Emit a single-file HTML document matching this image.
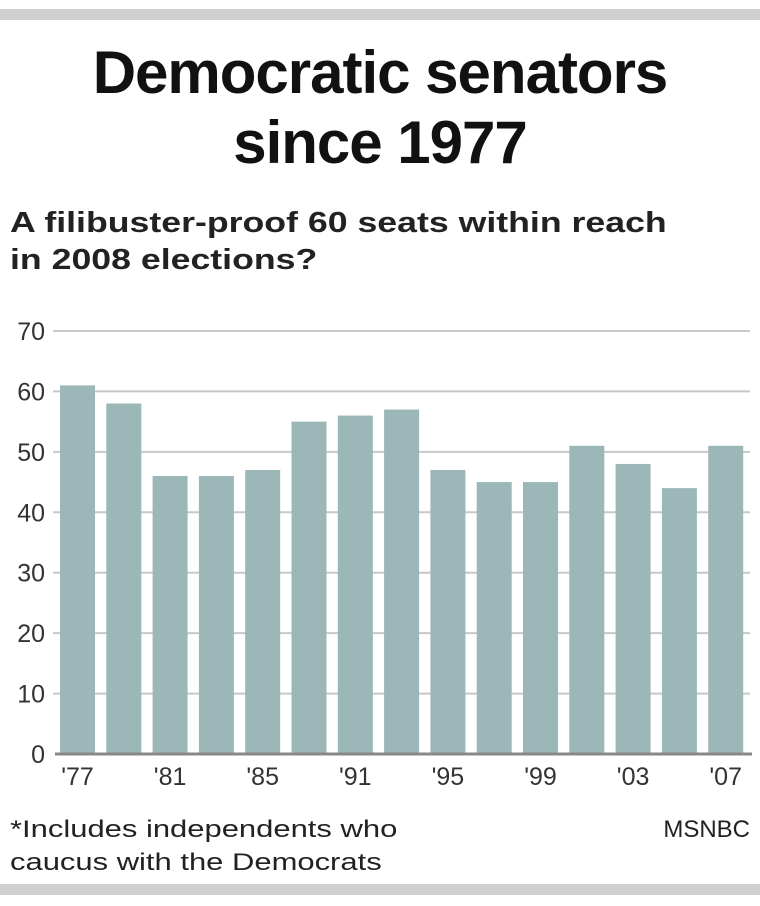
<!DOCTYPE html>
<html><head><meta charset="utf-8"><style>
body{margin:0;background:#fff;width:760px;height:906px;overflow:hidden;position:relative;font-family:"Liberation Sans",sans-serif}
.band{position:absolute;left:0;width:760px;height:11px;background:#cfcfcf}
#title{position:absolute;top:38px;left:0;width:760px;text-align:center;font-weight:bold;font-size:60px;line-height:70px;letter-spacing:-1px;transform:scaleX(1.0);color:#111}
#sub{position:absolute;top:205px;left:10px;font-weight:bold;font-size:29px;line-height:37px;color:#222;white-space:nowrap;transform:scaleX(1.23);transform-origin:0 0}
.foot{position:absolute;font-size:24px;color:#222;white-space:nowrap}
</style></head><body>
<div class="band" style="top:9px"></div>
<div id="title">Democratic senators<br>since 1977</div>
<div id="sub">A filibuster-proof 60 seats within reach<br>in 2008 elections?</div>
<svg id="chart" width="760" height="906" style="position:absolute;left:0;top:0"></svg>
<div class="foot" style="left:10px;top:813px;line-height:33px;transform:scaleX(1.29);transform-origin:0 0">*Includes independents who<br>caucus with the Democrats</div>
<div class="foot" style="right:10px;top:813px;line-height:33px">MSNBC</div>
<div class="band" style="top:884px"></div>
<script>
const values=[61,58,46,46,47,55,56,57,47,45,45,51,48,44,51];
const yTicks=[0,10,20,30,40,50,60,70];
const xLabels=["'77","'81","'85","'91","'95","'99","'03","'07"];
const ns="http://www.w3.org/2000/svg";
const svg=document.getElementById('chart');
const y=v=>754-v*(423/70);
const x=i=>60+i*46.3;
function mk(t,a){const e=document.createElementNS(ns,t);for(const k in a)e.setAttribute(k,a[k]);svg.appendChild(e);return e;}
yTicks.forEach(t=>{
 if(t>0){const l=mk('line',{x1:53,x2:750,y1:y(t),y2:y(t),stroke:'#c8c8c8','stroke-width':2});
 
 }
 const tx=mk('text',{x:45,y:y(t)+9,'text-anchor':'end','font-size':25,fill:'#333','font-family':'Liberation Sans, sans-serif'});
 tx.textContent=t;
 
 
});
values.forEach((v,i)=>{
 const r=mk('rect',{x:x(i),y:y(v),width:35,height:y(0)-y(v),fill:'#9bb7b7'});
 
 
});
const ax=mk('line',{x1:55,x2:752,y1:754,y2:754,stroke:'#888','stroke-width':3});


xLabels.forEach((s,j)=>{
 const tx=mk('text',{x:x(j*2)+17.5,y:785,'text-anchor':'middle','font-size':25,fill:'#333','font-family':'Liberation Sans, sans-serif'});
 tx.textContent=s;
 
 
});
</script>
</body></html>
